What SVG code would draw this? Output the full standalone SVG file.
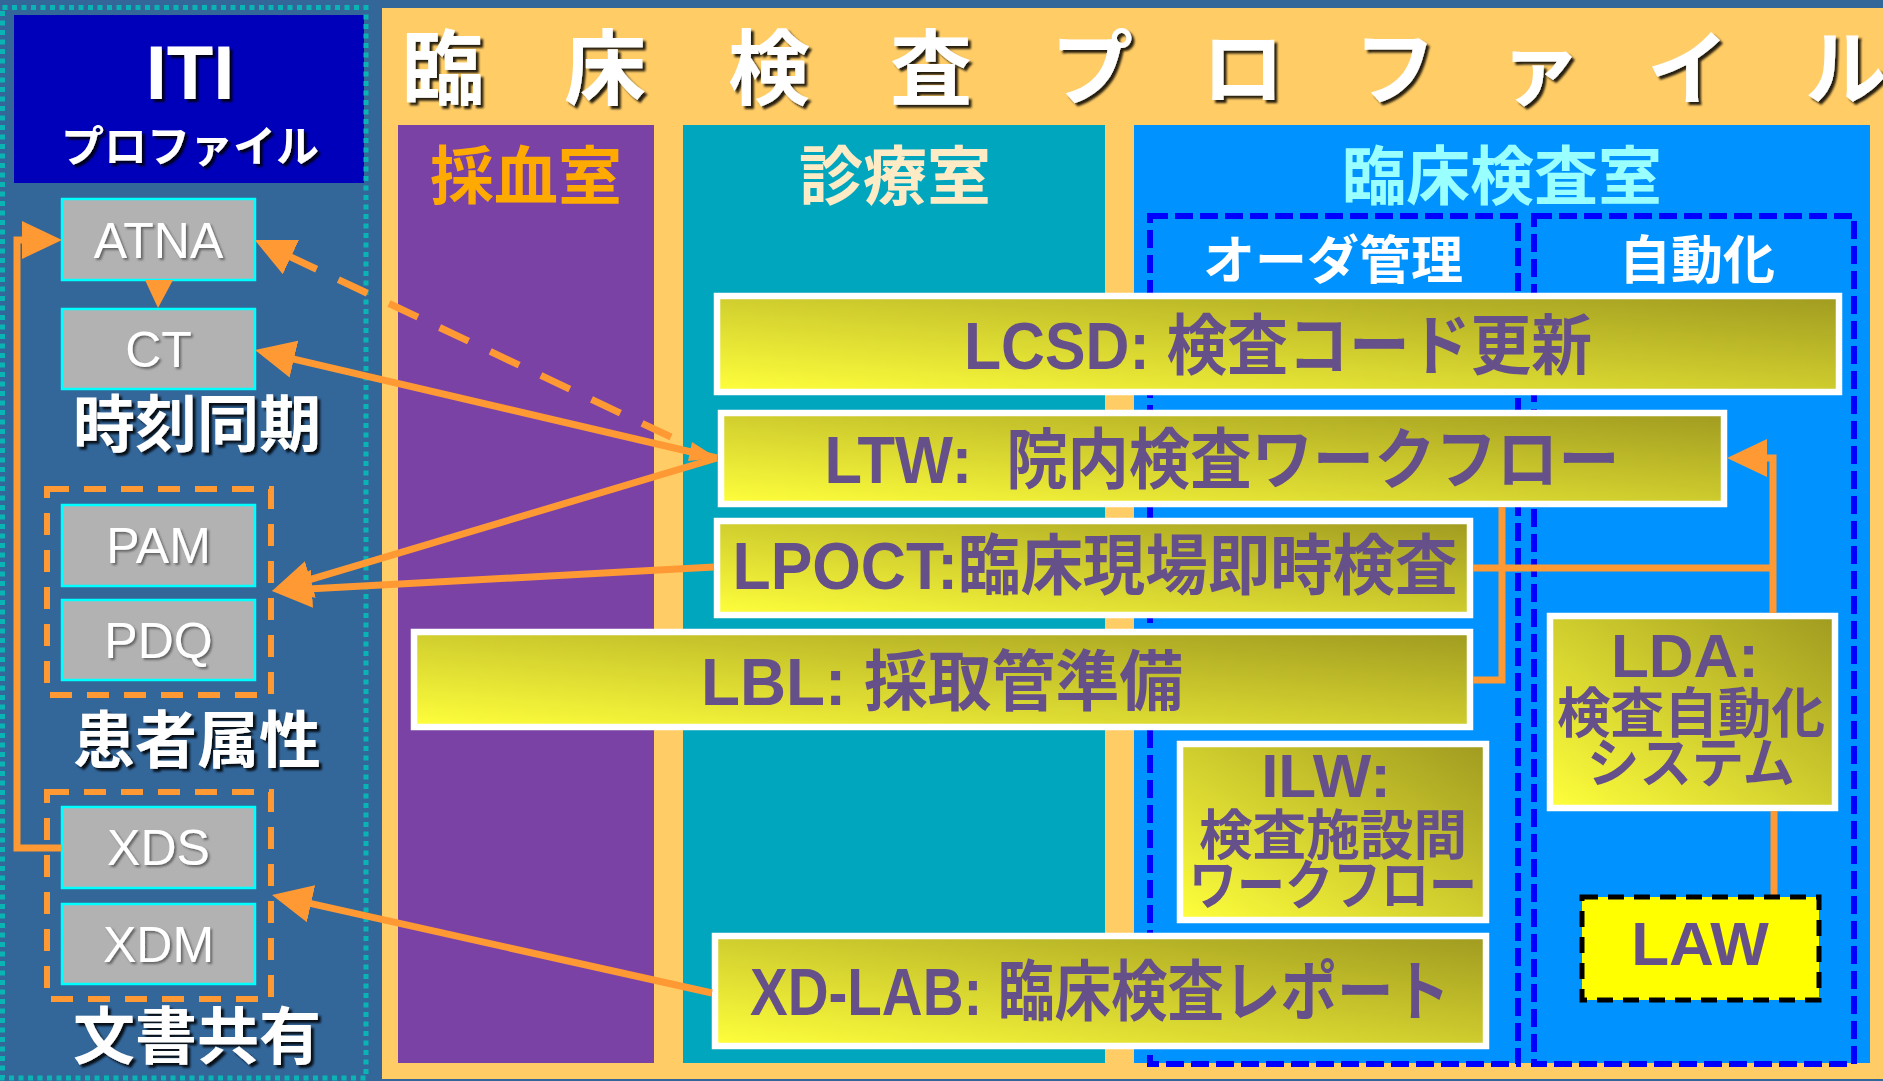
<svg xmlns="http://www.w3.org/2000/svg" width="1883" height="1081" viewBox="0 0 1883 1081">
<defs>
<style>
.jp{font-family:"Noto Sans CJK JP","Liberation Sans",sans-serif;font-weight:bold}
.lat{font-family:"Liberation Sans","Noto Sans CJK JP",sans-serif}
.lab{font-family:"Liberation Sans","Noto Sans CJK JP",sans-serif;font-weight:bold;fill:#66508A;text-anchor:middle}
.ybox{fill:url(#yg);stroke:#FFFFFF;stroke-width:6.5}
.gbox{fill:#B2B2B2;stroke:#00FFFF;stroke-width:2.5}
.gtxt{font-family:"Liberation Sans",sans-serif;font-size:50px;fill:#FFFFFF;text-anchor:middle}
.grp{fill:none;stroke:#FF9933;stroke-width:6;stroke-dasharray:22 15}
.bdash{fill:none;stroke:#0000FF;stroke-width:6;stroke-dasharray:18 7}
.wt{fill:#FFFFFF;text-anchor:middle}
.con{fill:none;stroke:#FF9933;stroke-width:7}
</style>
<linearGradient id="yg" x1="0" y1="1" x2="1" y2="0">
<stop offset="0" stop-color="#FFFF3C"/>
<stop offset="1" stop-color="#A09B20"/>
</linearGradient>
<filter id="sh" x="-10%" y="-20%" width="130%" height="150%">
<feDropShadow dx="3" dy="3" stdDeviation="1" flood-color="#000000" flood-opacity="0.85"/>
</filter>
<filter id="shs" x="-10%" y="-20%" width="130%" height="150%">
<feDropShadow dx="2" dy="2" stdDeviation="1" flood-color="#333333" flood-opacity="0.6"/>
</filter>
<marker id="ah" markerUnits="userSpaceOnUse" markerWidth="40" markerHeight="38" viewBox="0 0 40 38" refX="32" refY="19" orient="auto">
<path d="M0,0 L40,19 L0,38 z" fill="#FF9933"/>
</marker>
</defs>

<rect x="0" y="0" width="1883" height="1081" fill="#336699"/>

<g id="iti-panel">
<rect x="14" y="15" width="350" height="168" fill="#0000BB"/>
<rect x="2.5" y="7.5" width="363.5" height="1070.5" fill="none" stroke="#0AB4B4" stroke-width="5" stroke-dasharray="5 4.5"/>
<text class="lat wt" x="190" y="99" font-size="76" font-weight="bold" filter="url(#sh)">ITI</text>
<text class="jp wt" x="190" y="162" font-size="43" filter="url(#sh)">プロファイル</text>
</g>

<g id="lab-panel">
<rect x="382" y="8" width="1501" height="1071" fill="#FFCC66"/>
<text class="jp wt" y="98" font-size="82" x="443 605 769 931 1092 1243 1395 1540 1688 1846" filter="url(#sh)">臨床検査プロファイル</text>
</g>

<g id="room-blood">
<rect x="398" y="125" width="256" height="938" fill="#7B42A6"/>
<text class="jp" x="526" y="199" font-size="64" fill="#FFAA00" text-anchor="middle">採血室</text>
</g>
<g id="room-clinic">
<rect x="683" y="125" width="422" height="938" fill="#00A5BE"/>
<text class="jp" x="895" y="199" font-size="64" fill="#FCEBC4" text-anchor="middle">診療室</text>
</g>
<g id="room-lab">
<rect x="1134" y="125" width="736" height="938" fill="#0092FF"/>
<text class="jp" x="1502" y="199" font-size="64" fill="#99FFFF" text-anchor="middle">臨床検査室</text>
</g>
<g id="area-order">
<rect class="bdash" x="1150" y="216" width="368" height="848"/>
<text class="jp wt" x="1333" y="279" font-size="52">オーダ管理</text>
</g>
<g id="area-auto">
<rect class="bdash" x="1534" y="216" width="320" height="848"/>
<text class="jp wt" x="1697" y="279" font-size="52">自動化</text>
</g>

<g id="grp-time">
<text class="jp wt" x="197" y="447" font-size="62" filter="url(#sh)">時刻同期</text>
</g>
<g id="grp-patient">
<rect class="grp" x="47" y="489" width="224" height="206"/>
<text class="jp wt" x="197" y="763" font-size="62" filter="url(#sh)">患者属性</text>
</g>
<g id="grp-doc">
<rect class="grp" x="47" y="792" width="224" height="207"/>
<text class="jp wt" x="197" y="1059" font-size="62" filter="url(#sh)">文書共有</text>
</g>

<g id="n-atna"><rect class="gbox" x="62" y="199" width="193" height="81"/><text class="gtxt" x="158.5" y="258" filter="url(#shs)">ATNA</text></g>
<g id="n-ct"><rect class="gbox" x="62" y="309" width="193" height="80"/><text class="gtxt" x="158.5" y="367" filter="url(#shs)">CT</text></g>
<g id="n-pam"><rect class="gbox" x="62" y="505" width="193" height="81"/><text class="gtxt" x="158.5" y="563" filter="url(#shs)">PAM</text></g>
<g id="n-pdq"><rect class="gbox" x="62" y="600" width="193" height="80"/><text class="gtxt" x="158.5" y="658" filter="url(#shs)">PDQ</text></g>
<g id="n-xds"><rect class="gbox" x="62" y="807" width="193" height="81"/><text class="gtxt" x="158.5" y="865" filter="url(#shs)">XDS</text></g>
<g id="n-xdm"><rect class="gbox" x="62" y="904" width="193" height="80"/><text class="gtxt" x="158.5" y="962" filter="url(#shs)">XDM</text></g>

<g id="n-lcsd"><rect class="ybox" x="717" y="296" width="1122" height="96"/><text class="lab" x="1278" y="369" font-size="66" textLength="628" lengthAdjust="spacingAndGlyphs">LCSD: 検査コード更新</text></g>
<g id="n-ltw"><rect class="ybox" x="721" y="413" width="1003" height="91"/><text class="lab" x="1222" y="483" font-size="66" textLength="795" lengthAdjust="spacingAndGlyphs" xml:space="preserve">LTW:  院内検査ワークフロー</text></g>
<g id="n-lpoct"><rect class="ybox" x="717" y="521" width="753" height="94"/><text class="lab" x="1095" y="589" font-size="66" textLength="725" lengthAdjust="spacingAndGlyphs">LPOCT:臨床現場即時検査</text></g>
<g id="n-lbl"><rect class="ybox" x="414" y="632" width="1056" height="95"/><text class="lab" x="942" y="705" font-size="66" textLength="482" lengthAdjust="spacingAndGlyphs">LBL: 採取管準備</text></g>
<g id="n-ilw"><rect class="ybox" x="1180" y="744" width="306" height="176"/>
<text class="lab" x="1326" y="797" font-size="62">ILW:</text>
<text class="lab" x="1333" y="855" font-size="54" textLength="268" lengthAdjust="spacingAndGlyphs">検査施設間</text>
<text class="lab" x="1333" y="905" font-size="54" textLength="288" lengthAdjust="spacingAndGlyphs">ワークフロー</text></g>
<g id="n-lda"><rect class="ybox" x="1550" y="616" width="285" height="192"/>
<text class="lab" x="1685" y="677" font-size="62">LDA:</text>
<text class="lab" x="1691" y="733" font-size="54" textLength="268" lengthAdjust="spacingAndGlyphs">検査自動化</text>
<text class="lab" x="1691" y="783" font-size="54" textLength="208" lengthAdjust="spacingAndGlyphs">システム</text></g>
<g id="n-xdlab"><rect class="ybox" x="715" y="936" width="771" height="110"/><text class="lab" x="1100" y="1015" font-size="66" textLength="700" lengthAdjust="spacingAndGlyphs">XD-LAB: 臨床検査レポート</text></g>

<g id="connectors">
<path class="con" d="M671,437 L262,243.4" stroke-dasharray="32 24" marker-end="url(#ah)"/>
<path class="con" d="M717,458 L262.8,351.8" marker-end="url(#ah)"/>
<polygon points="717,458 692,442 688,461" fill="#FF9933"/>
<path class="con" d="M717,458 L279.7,588.7" marker-end="url(#ah)"/>
<path class="con" d="M714,567 L280,590.6" marker-end="url(#ah)"/>
<path class="con" d="M712,993 L279.8,896.7" marker-end="url(#ah)"/>
<path class="con" d="M62,848 H17 V240 H54" marker-end="url(#ah)"/>
<polygon points="145,280 173,280 158,308" fill="#FF9933"/>
<path class="con" d="M1473,680 H1502 V507"/>
<path class="con" d="M1473,568 H1773"/>
<path class="con" d="M1773,613 V458 H1735" marker-end="url(#ah)"/>
<path class="con" d="M1774,811 V897" stroke-width="5"/>
</g>

<g id="n-law">
<rect x="1582" y="897" width="237" height="103" fill="#FFFF00" stroke="#000000" stroke-width="5" stroke-dasharray="16 10"/>
<text class="lab" x="1700" y="965" font-size="62">LAW</text>
</g>
</svg>
